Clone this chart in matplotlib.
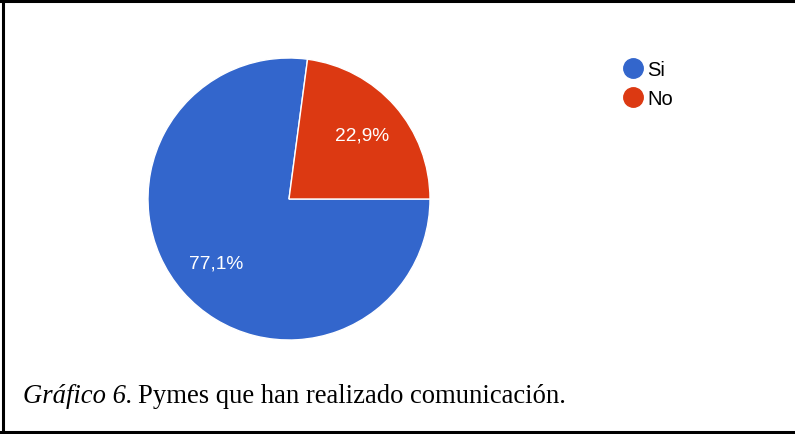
import matplotlib
matplotlib.use('agg')
from matplotlib import pyplot as plt
from matplotlib.lines import Line2D
import numpy as np

# Survey answers: share of SMEs that carried out communication
labels = ['Si', 'No']
shares = [77.1, 22.9]
colors = ['#3366CC', '#DC3912']
pct_labels = ['77,1%', '22,9%']

W, H = 795, 435
fig = plt.figure(figsize=(W / 100, H / 100), dpi=100)

# pie: centre (289, 200) px, radius 141 px
cx, cy, r = 289, 200, 141
ax = fig.add_axes([(cx - r) / W, (H - cy - r) / H, 2 * r / W, 2 * r / H])
wedges, _ = ax.pie(shares, colors=colors, startangle=0, counterclock=False,
                   radius=1, wedgeprops=dict(edgecolor='white', linewidth=1))
ax.set_xlim(-1, 1)
ax.set_ylim(-1, 1)
ax.set_aspect('equal')
ax.axis('off')

# percentage labels inside the slices
for w, txt in zip(wedges, pct_labels):
    mid = np.deg2rad((w.theta1 + w.theta2) / 2)
    ax.text(0.69 * np.cos(mid), 0.69 * np.sin(mid), txt, color='white',
            fontsize=13.8, fontfamily='Liberation Sans', ha='center', va='center')

# legend on the right
handles = [Line2D([], [], marker='o', linestyle='none', markersize=14,
                  markerfacecolor=c, markeredgecolor=c) for c in colors]
fig.legend(handles, labels, loc='upper left', bbox_to_anchor=(611 / W, 1 - 51 / H),
           frameon=False, prop={'family': 'Liberation Sans', 'size': 14.5},
           handletextpad=0.1, labelspacing=0.5, handlelength=1.2, borderpad=0)

# caption below the chart
cap_it = fig.text(23 / W, 1 - 403 / H, 'Gráfico 6.', fontsize=19.2,
                  fontfamily='Liberation Serif', style='italic', va='baseline')
fig.canvas.draw()
bb = cap_it.get_window_extent()
fig.text((bb.x1 + 5) / W, 1 - 403 / H, 'Pymes que han realizado comunicación.',
         fontsize=19.2, fontfamily='Liberation Serif', va='baseline')

# frame lines: left, top and bottom
for x0, y0, x1, y1 in [(3, 0, 3, 433), (0, 1.5, W, 1.5), (0, 432.5, W, 432.5)]:
    fig.add_artist(Line2D([x0 / W, x1 / W], [1 - y0 / H, 1 - y1 / H],
                          transform=fig.transFigure, color='black', linewidth=2.2))

fig.savefig('out.png', dpi=100)
